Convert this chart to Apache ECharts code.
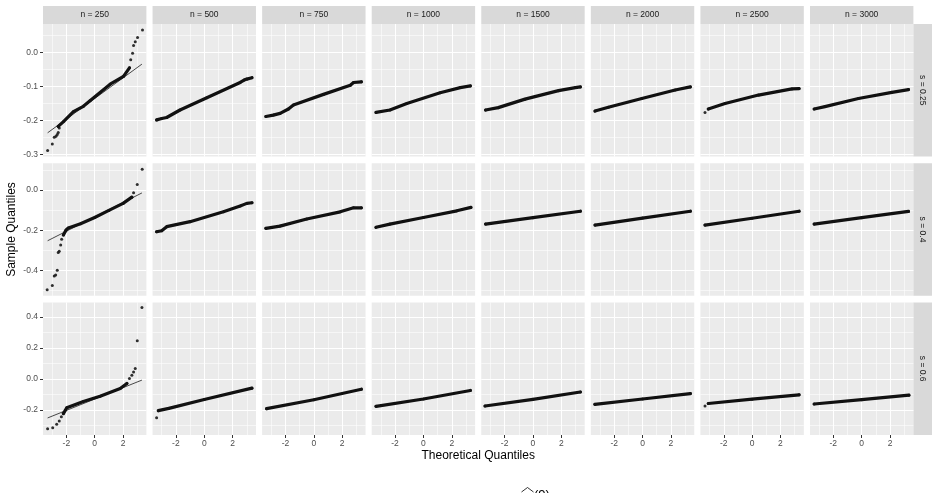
<!DOCTYPE html>
<html>
<head>
<meta charset="utf-8">
<script src="https://cdn.jsdelivr.net/npm/echarts@6/dist/echarts.min.js"></script>
<style>
  html, body { margin: 0; padding: 0; background: #fff; }
  #chart { width: 938px; height: 493px; }
</style>
</head>
<body>
<div id="chart"></div>
<script>
// facet labels
const nLabels = ['n = 250', 'n = 500', 'n = 750', 'n = 1000', 'n = 1500', 'n = 2000', 'n = 2500', 'n = 3000'];
const sLabels = ['s = 0.25', 's = 0.4', 's = 0.6'];

// axes
const xRange = [-3.645, 3.645];
const xMajor = [-2, 0, 2];
const xMinor = [-3, -1, 1, 3];
const yRanges = [[-0.306, 0.084], [-0.526, 0.134], [-0.362, 0.493]];
const yMajor = [[-0.3, -0.2, -0.1, 0], [-0.4, -0.2, 0], [-0.2, 0, 0.2, 0.4]];
const yMinor = [[-0.25, -0.15, -0.05, 0.05], [-0.5, -0.3, -0.1, 0.1], [-0.3, -0.1, 0.1, 0.3]];

// q-q points: dense part (body) and loose points (tail), one list per n
const bodyS025 = [
  [[-2.57, -0.217], [-2.2, -0.203], [-1.5, -0.174], [-0.8, -0.158], [-0.33, -0.142], [1.09, -0.093], [2.03, -0.070], [2.45, -0.045]],
  [[-3.36, -0.198], [-3.0, -0.194], [-2.65, -0.191], [-1.71, -0.169], [0.18, -0.133], [2.53, -0.088], [2.81, -0.081], [3.0, -0.078], [3.36, -0.074]],
  [[-3.38, -0.188], [-2.86, -0.184], [-2.38, -0.179], [-1.79, -0.166], [-1.44, -0.154], [0.68, -0.123], [2.57, -0.096], [2.8, -0.088], [3.35, -0.086]],
  [[-3.34, -0.176], [-2.36, -0.169], [-1.17, -0.150], [1.18, -0.118], [2.6, -0.103], [3.31, -0.098]],
  [[-3.34, -0.169], [-2.45, -0.162], [-0.56, -0.137], [1.80, -0.112], [2.99, -0.103], [3.34, -0.101]],
  [[-3.35, -0.172], [-2.41, -0.161], [-0.05, -0.135], [2.3, -0.110], [3.37, -0.101]],
  [[-3.09, -0.166], [-1.91, -0.150], [0.45, -0.125], [2.81, -0.107], [3.31, -0.106]],
  [[-3.35, -0.166], [-2.59, -0.159], [-0.23, -0.135], [2.13, -0.117], [3.30, -0.109]]
];
const tailS025 = [
  [[-3.32, -0.288], [-2.99, -0.269], [-2.85, -0.249], [-2.73, -0.246], [-2.64, -0.241], [-2.57, -0.235], [-2.5, -0.222],
   [2.54, -0.021], [2.67, -0.002], [2.74, 0.021], [2.86, 0.032], [3.02, 0.044], [3.37, 0.066]],
  [], [], [], [], [],
  [[-3.32, -0.176]],
  []
];

const bodyS04 = [
  [[-2.21, -0.223], [-2.02, -0.199], [-1.86, -0.188], [-1.0, -0.167], [0.0, -0.136], [1.0, -0.101], [2.0, -0.066], [2.62, -0.035]],
  [[-3.36, -0.207], [-3.0, -0.202], [-2.65, -0.182], [-1.0, -0.157], [1.35, -0.108], [2.53, -0.079], [3.0, -0.066], [3.36, -0.063]],
  [[-3.38, -0.190], [-2.39, -0.179], [-0.5, -0.144], [1.86, -0.108], [2.8, -0.088], [3.35, -0.088]],
  [[-3.34, -0.185], [-2.36, -0.169], [0.0, -0.136], [2.36, -0.103], [3.35, -0.086]],
  [[-3.34, -0.169], [0.0, -0.137], [3.34, -0.105]],
  [[-3.35, -0.174], [0.0, -0.139], [3.37, -0.105]],
  [[-3.32, -0.174], [0.0, -0.140], [3.31, -0.105]],
  [[-3.35, -0.169], [0.0, -0.137], [3.30, -0.106]]
];
const tailS04 = [
  [[-3.35, -0.496], [-2.99, -0.475], [-2.85, -0.427], [-2.75, -0.422], [-2.64, -0.399], [-2.57, -0.311], [-2.5, -0.304],
   [-2.4, -0.273], [-2.33, -0.245], [2.74, -0.013], [3.0, 0.028], [3.35, 0.104]],
  [], [], [], [], [], [], []
];

const bodyS06 = [
  [[-2.21, -0.224], [-1.97, -0.187], [-0.8, -0.146], [0.38, -0.112], [1.8, -0.062], [2.27, -0.030]],
  [[-3.24, -0.205], [-2.5, -0.190], [0.0, -0.133], [3.36, -0.060]],
  [[-3.33, -0.192], [0.0, -0.135], [3.35, -0.067]],
  [[-3.34, -0.177], [0.0, -0.130], [3.31, -0.075]],
  [[-3.38, -0.175], [0.0, -0.132], [3.34, -0.085]],
  [[-3.36, -0.164], [0.0, -0.130], [3.37, -0.095]],
  [[-3.09, -0.159], [0.0, -0.131], [3.31, -0.103]],
  [[-3.35, -0.162], [0.0, -0.134], [3.33, -0.105]]
];
const tailS06 = [
  [[-3.32, -0.321], [-2.96, -0.315], [-2.68, -0.293], [-2.5, -0.272], [-2.35, -0.245],
   [2.45, 0.003], [2.62, 0.024], [2.74, 0.045], [2.86, 0.067], [3.0, 0.246], [3.33, 0.460]],
  [[-3.36, -0.250]],
  [], [], [], [],
  [[-3.32, -0.175]],
  []
];

// reference lines (only visible for n = 250)
const qqLineN250 = [
  [[-3.32, -0.236], [3.33, -0.034]],
  [[-3.32, -0.252], [3.33, -0.014]],
  [[-3.32, -0.252], [3.33, -0.008]]
];

const bodies = [bodyS025, bodyS04, bodyS06];
const tails = [tailS025, tailS04, tailS06];

// layout
const left0 = 43, colStep = 109.57, panelW = 103.4;
const top0 = 24, rowStep = 139.2, panelH = 132.6;
const font = 'Liberation Sans';

const chart = echarts.init(document.getElementById('chart'));

const grids = [], xAxes = [], yAxes = [], series = [], graphics = [];

for (let r = 0; r < 3; r++) {
  for (let c = 0; c < 8; c++) {
    const i = r * 8 + c;
    grids.push({
      left: left0 + c * colStep, top: top0 + r * rowStep, width: panelW, height: panelH,
      show: true, backgroundColor: '#EBEBEB', borderWidth: 0
    });
    const bottomRow = r === 2, firstCol = c === 0;
    xAxes.push({
      type: 'value', gridIndex: i, min: xRange[0], max: xRange[1], position: 'bottom',
      axisLine: { show: false, onZero: false },
      axisTick: { show: bottomRow, customValues: xMajor, length: 3, lineStyle: { color: '#333', width: 1 } },
      axisLabel: { show: bottomRow, customValues: xMajor, margin: 4, fontSize: 8.5, color: '#4D4D4D', fontFamily: font },
      splitLine: { show: true, lineStyle: { color: '#fff', width: 1.1 } }
    });
    xAxes.push({
      type: 'value', gridIndex: i, min: xRange[0], max: xRange[1], position: 'top',
      axisLine: { show: false, onZero: false },
      axisTick: { show: false, customValues: xMinor },
      axisLabel: { show: false, customValues: xMinor },
      splitLine: { show: true, lineStyle: { color: '#fff', width: 0.55 } }
    });
    yAxes.push({
      type: 'value', gridIndex: i, min: yRanges[r][0], max: yRanges[r][1], position: 'left',
      axisLine: { show: false, onZero: false },
      axisTick: { show: firstCol, customValues: yMajor[r], length: 3, lineStyle: { color: '#333', width: 1 } },
      axisLabel: {
        show: firstCol, customValues: yMajor[r], margin: 5, fontSize: 8.5, color: '#4D4D4D', fontFamily: font,
        formatter: v => (Math.abs(v) < 1e-9 ? 0 : v).toFixed(1)
      },
      splitLine: { show: true, lineStyle: { color: '#fff', width: 1.1 } }
    });
    yAxes.push({
      type: 'value', gridIndex: i, min: yRanges[r][0], max: yRanges[r][1], position: 'right',
      axisLine: { show: false, onZero: false },
      axisTick: { show: false, customValues: yMinor[r] },
      axisLabel: { show: false, customValues: yMinor[r] },
      splitLine: { show: true, lineStyle: { color: '#fff', width: 0.55 } }
    });

    if (c === 0) {
      series.push({
        type: 'line', xAxisIndex: 2 * i, yAxisIndex: 2 * i, data: qqLineN250[r],
        showSymbol: false, silent: true, lineStyle: { color: '#000', width: 0.7 }
      });
    }
    series.push({
      type: 'line', xAxisIndex: 2 * i, yAxisIndex: 2 * i, data: bodies[r][c],
      showSymbol: false, silent: true, lineStyle: { color: '#111', width: 3.2, cap: 'round', join: 'round' }
    });
    series.push({
      type: 'scatter', xAxisIndex: 2 * i, yAxisIndex: 2 * i,
      data: bodies[r][c].concat(tails[r][c]),
      symbolSize: 3, silent: true, itemStyle: { color: '#1a1a1a', opacity: 0.9 }
    });
  }
}

// top strips
nLabels.forEach((t, c) => {
  graphics.push({
    type: 'rect', shape: { x: left0 + c * colStep, y: 6, width: panelW, height: 18 },
    style: { fill: '#D9D9D9' }, silent: true
  });
  graphics.push({
    type: 'text', x: left0 + c * colStep + panelW / 2, y: 15,
    style: { text: t, fill: '#1A1A1A', font: '8.5px ' + font, textAlign: 'center', textVerticalAlign: 'middle' }
  });
});
// right strips
const stripX = left0 + 7 * colStep + panelW;
sLabels.forEach((t, r) => {
  graphics.push({
    type: 'rect', shape: { x: stripX, y: top0 + r * rowStep, width: 18.6, height: panelH },
    style: { fill: '#D9D9D9' }, silent: true
  });
  graphics.push({
    type: 'text', x: stripX + 9.3, y: top0 + r * rowStep + panelH / 2, rotation: -Math.PI / 2,
    style: { text: t, fill: '#1A1A1A', font: '8.5px ' + font, textAlign: 'center', textVerticalAlign: 'middle' }
  });
});
// axis titles
const plotRight = stripX;
graphics.push({
  type: 'text', x: 12, y: top0 + (2 * rowStep + panelH) / 2, rotation: Math.PI / 2,
  style: { text: 'Sample Quantiles', fill: '#000', font: '12px ' + font, textAlign: 'center', textVerticalAlign: 'middle' }
});
graphics.push({
  type: 'text', x: (left0 + plotRight) / 2, y: 456,
  style: { text: 'Theoretical Quantiles', fill: '#000', font: '12px ' + font, textAlign: 'center', textVerticalAlign: 'middle' }
});
// caption, cut off at the bottom edge
graphics.push({
  type: 'polyline', shape: { points: [[521.5, 492], [527.5, 487.5], [533.5, 492]] },
  style: { stroke: '#000', lineWidth: 0.8, fill: null }, silent: true
});
graphics.push({
  type: 'text', x: 534, y: 488.5,
  style: { text: '(9)', fill: '#000', font: '13px ' + font, textAlign: 'left', textVerticalAlign: 'top' }
});

chart.setOption({
  animation: false,
  textStyle: { fontFamily: font },
  grid: grids,
  xAxis: xAxes,
  yAxis: yAxes,
  series: series,
  graphic: graphics
});
</script>
</body>
</html>
